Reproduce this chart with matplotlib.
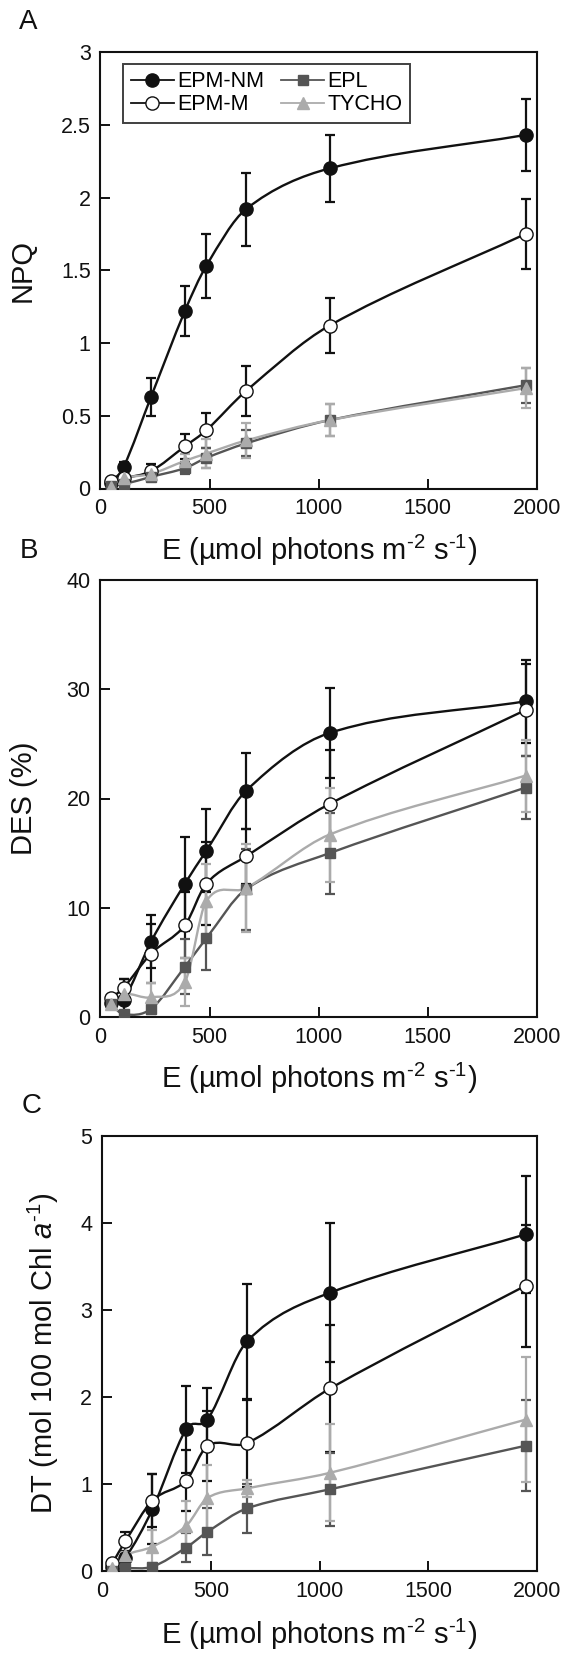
import numpy as np
import matplotlib
matplotlib.use('Agg')
import matplotlib.pyplot as plt
from matplotlib.path import Path
from matplotlib.patches import PathPatch
from matplotlib.lines import Line2D
from matplotlib.ticker import FuncFormatter

plt.rcParams['font.family'] = ['Liberation Sans', 'DejaVu Sans']
plt.rcParams['mathtext.fontset'] = 'custom'
plt.rcParams['mathtext.rm'] = 'Liberation Sans'
plt.rcParams['mathtext.it'] = 'Liberation Sans:italic'
plt.rcParams['mathtext.default'] = 'regular'

# ---------------- data ----------------
E = [48, 107, 232, 387, 485, 667, 1050, 1948]
series_names = ['EPM-NM', 'EPM-M', 'EPL', 'TYCHO']

# Panel A: NPQ
npq_nm = [0.04, 0.15, 0.63, 1.22, 1.53, 1.92, 2.20, 2.43]
npq_nm_err = [0.01, 0.03, 0.13, 0.17, 0.22, 0.25, 0.23, 0.25]
npq_m = [0.05, 0.07, 0.12, 0.29, 0.40, 0.67, 1.12, 1.75]
npq_m_err = [0.01, 0.02, 0.05, 0.085, 0.12, 0.17, 0.19, 0.24]
npq_epl = [0.02, 0.03, 0.08, 0.14, 0.21, 0.31, 0.47, 0.71]
npq_epl_err = [0.01, 0.01, 0.03, 0.04, 0.07, 0.09, 0.11, 0.12]
npq_ty = [0.01, 0.07, 0.10, 0.19, 0.24, 0.33, 0.47, 0.69]
npq_ty_err = [0.01, 0.02, 0.03, 0.05, 0.10, 0.12, 0.11, 0.14]

# Panel B: DES (%)
des_nm = [1.3, 1.6, 6.9, 12.2, 15.2, 20.7, 26.0, 28.9]
des_nm_err = [0.4, 1.9, 2.4, 4.3, 3.8, 3.5, 4.1, 3.8]
des_m = [1.7, 2.7, 5.8, 8.4, 12.2, 14.7, 19.5, 28.1]
des_m_err = [0.3, 0.8, 2.7, 3.0, 3.8, 2.5, 4.9, 4.2]
des_epl = [1.15, 0.25, 0.75, 4.6, 7.2, 11.7, 15.0, 21.0]
des_epl_err = [0.3, 0.2, 0.5, 2.5, 2.9, 3.7, 3.7, 2.9]
des_ty = [1.15, 2.1, 1.8, 3.2, 10.6, 11.8, 16.7, 22.1]
des_ty_err = [0.3, 0.5, 1.3, 2.2, 3.4, 4.0, 4.3, 3.3]

# Panel C: DT (mol 100 mol Chl a-1)
dt_nm = [0.05, 0.15, 0.71, 1.63, 1.74, 2.64, 3.20, 3.87]
dt_nm_err = [0.02, 0.05, 0.40, 0.50, 0.36, 0.66, 0.80, 0.67]
dt_m = [0.09, 0.34, 0.81, 1.04, 1.44, 1.47, 2.10, 3.28]
dt_m_err = [0.02, 0.11, 0.30, 0.35, 0.40, 0.50, 0.73, 0.70]
dt_epl = [0.0, 0.03, 0.05, 0.27, 0.45, 0.72, 0.94, 1.44]
dt_epl_err = [0.01, 0.02, 0.03, 0.17, 0.27, 0.28, 0.42, 0.52]
dt_ty = [0.04, 0.18, 0.28, 0.52, 0.84, 0.95, 1.13, 1.74]
dt_ty_err = [0.01, 0.04, 0.19, 0.29, 0.38, 0.10, 0.56, 0.72]

x_ticks = [0, 500, 1000, 1500, 2000]
npq_ticks = [0, 0.5, 1, 1.5, 2, 2.5, 3]
des_ticks = [0, 10, 20, 30, 40]
dt_ticks = [0, 1, 2, 3, 4, 5]

# ---------------- styles ----------------
styles = {
    'EPM-NM': dict(color='#111111', mfc='#111111', mec='#111111', marker='o', ms=9.5, ecolor='#111111'),
    'EPM-M': dict(color='#111111', mfc='white', mec='#111111', marker='o', ms=9.5, ecolor='#111111'),
    'EPL': dict(color='#555555', mfc='#555555', mec='#555555', marker='s', ms=7.5, ecolor='#555555'),
    'TYCHO': dict(color='#ababab', mfc='#ababab', mec='#ababab', marker='^', ms=8.5, ecolor='#ababab'),
}


def smooth_path(x, y):
    """Cubic Bezier through the points, tangents from neighbouring points."""
    x = np.asarray(x, float)
    y = np.asarray(y, float)
    n = len(x)
    m = np.zeros(n)
    for i in range(n):
        a = max(i - 1, 0)
        b = min(i + 1, n - 1)
        m[i] = (y[b] - y[a]) / (x[b] - x[a])
    verts = [(x[0], y[0])]
    codes = [Path.MOVETO]
    for i in range(n - 1):
        h = x[i + 1] - x[i]
        c1 = (x[i] + h / 3.0, y[i] + m[i] * h / 3.0)
        c2 = (x[i + 1] - h / 3.0, y[i + 1] - m[i + 1] * h / 3.0)
        verts += [c1, c2, (x[i + 1], y[i + 1])]
        codes += [Path.CURVE4] * 3
    return Path(verts, codes)


def draw_series(ax, name, y, err, k):
    st = styles[name]
    ax.errorbar(E, y, yerr=err, fmt='none', ecolor=st['ecolor'], elinewidth=1.6,
                capsize=3.5, capthick=1.6, zorder=2 + k * 0.1)
    patch = PathPatch(smooth_path(E, y), facecolor='none', edgecolor=st['color'],
                      lw=1.7, zorder=3 + k * 0.1, transform=ax.transData)
    ax.add_patch(patch)
    ax.plot(E, y, ls='none', marker=st['marker'], ms=st['ms'], mfc=st['mfc'],
            mec=st['mec'], mew=1.0, zorder=4 + k * 0.1)


def fmt_g(v, pos):
    return '%g' % v


def setup(ax, ylim, yticks):
    ax.set_xlim(0, 2000)
    ax.set_ylim(*ylim)
    ax.set_xticks(x_ticks)
    ax.set_yticks(yticks)
    ax.yaxis.set_major_formatter(FuncFormatter(fmt_g))
    ax.tick_params(direction='in', length=7.5, width=1.4, labelsize=15.5,
                   top=False, right=False, colors='#111111')
    ax.tick_params(axis='x', pad=7)
    ax.tick_params(axis='y', pad=7)
    for s in ax.spines.values():
        s.set_linewidth(1.5)
        s.set_color('#111111')


W, H = 570, 1653
fig = plt.figure(figsize=(W / 100, H / 100), dpi=100)


def add_axes(l, t, r, b):
    return fig.add_axes([l / W, 1 - b / H, (r - l) / W, (b - t) / H])


axA = add_axes(100.4, 52, 537, 488.5)
axB = add_axes(100.4, 580, 537, 1017)
axC = add_axes(102, 1136, 537, 1571)

xlabel = r'E (µmol photons m$^{\text{-}2}$ s$^{\text{-}1}$)'

panels = [
    (axA, (0, 3), npq_ticks, [npq_nm, npq_m, npq_epl, npq_ty],
     [npq_nm_err, npq_m_err, npq_epl_err, npq_ty_err], 'NPQ', -0.178, -0.1645),
    (axB, (0, 40), des_ticks, [des_nm, des_m, des_epl, des_ty],
     [des_nm_err, des_m_err, des_epl_err, des_ty_err], 'DES (%)', -0.176, -0.162),
    (axC, (0, 5), dt_ticks, [dt_nm, dt_m, dt_epl, dt_ty],
     [dt_nm_err, dt_m_err, dt_epl_err, dt_ty_err],
     r'DT (mol 100 mol Chl $\mathit{a}^{\text{-}1}$)', -0.134, -0.168),
]

for ax, ylim, yt, ys, errs, ylab, ylx, xly in panels:
    setup(ax, ylim, yt)
    for k, (name, y, e) in enumerate(zip(series_names, ys, errs)):
        draw_series(ax, name, y, e, k)
    ax.set_ylabel(ylab, fontsize=21, color='#111111')
    ax.yaxis.set_label_coords(ylx, 0.5)
    ax.yaxis.label.set_va('center')
    ax.set_xlabel(xlabel, fontsize=21, color='#111111')
    ax.xaxis.set_label_coords(0.5, xly)
    ax.xaxis.label.set_va('baseline')

# legend in panel A
handles = []
for name in series_names:
    st = styles[name]
    handles.append(Line2D([], [], color=st['color'], lw=1.3, marker=st['marker'],
                          ms=st['ms'], mfc=st['mfc'], mec=st['mec']))
leg = axA.legend(handles, series_names, ncol=2, loc='upper left',
                 bbox_to_anchor=(0.052, 0.973), fontsize=15.5, frameon=True,
                 fancybox=False, edgecolor='#111111', handlelength=2.0,
                 handletextpad=0.15, columnspacing=0.8, labelspacing=0.1,
                 borderpad=0.35, borderaxespad=0.0)
leg.get_frame().set_linewidth(1.4)

# panel letters
for letter, (px, py) in zip('ABC', [(28, 22), (29, 551), (32, 1106)]):
    fig.text(px / W, 1 - py / H, letter, fontsize=20, ha='center', va='center', color='#111111')

fig.savefig('out.png', dpi=100)
